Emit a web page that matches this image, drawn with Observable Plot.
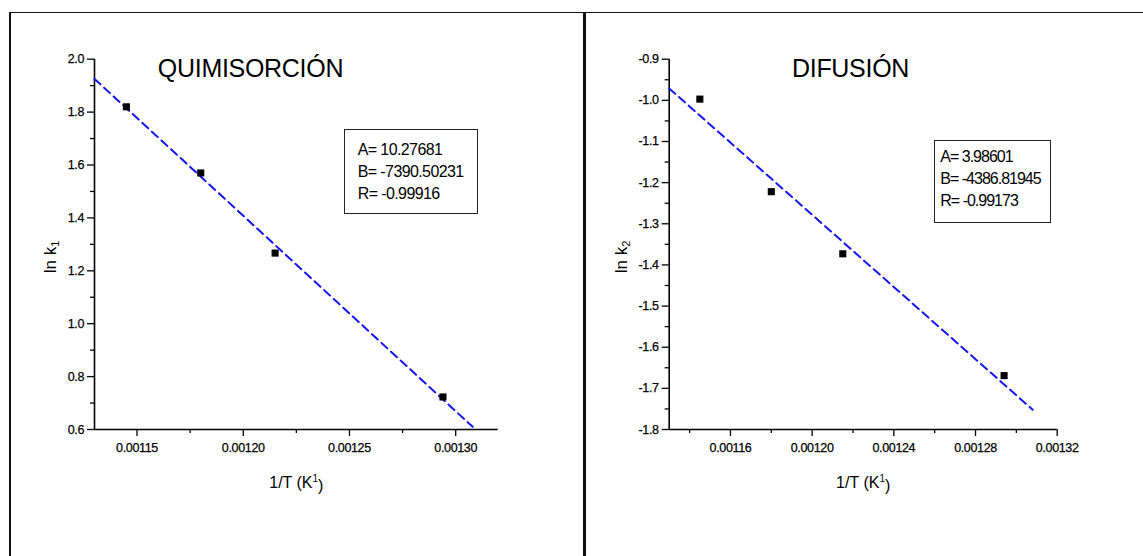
<!DOCTYPE html>
<html>
<head>
<meta charset="utf-8">
<script src="https://cdn.jsdelivr.net/npm/d3@7"></script>
<script src="https://cdn.jsdelivr.net/npm/@observablehq/plot@0.6"></script>
<style>
  html, body { margin: 0; padding: 0; background: #fff; }
  #root { position: relative; width: 1143px; height: 556px; overflow: hidden; background: #fff; font-family: "Liberation Sans", Arial, sans-serif; }
  .panel { position: absolute; top: 0; }
  .line { position: absolute; background: #111; z-index: 5; }
  .fitbox { position: absolute; border: 1.3px solid #222; box-sizing: border-box; font-size: 16px; line-height: 22px; color: #000; background: #fff; z-index: 4; white-space: nowrap; }
</style>
</head>
<body>
<div id="root"></div>
<script>
// ---- data ----
const invT = [0.001145, 0.00118, 0.001215, 0.001294];
const lnK1 = [1.82, 1.57, 1.267, 0.723];
const lnK2 = [-0.997, -1.222, -1.373, -1.669];

const fitLeft = {A: 10.27681, B: -7390.50231, R: -0.99916};
const fitRight = {A: 3.98601, B: -4386.81945, R: -0.99173};
const fitLeftText = ["A= 10.27681", "B= -7390.50231", "R= -0.99916"];
const fitRightText = ["A= 3.98601", "B= -4386.81945", "R= -0.99173"];
const fitRangeX = [0.00113, 0.001308];

const xDomain = [0.00113, 0.00132];
const leftXMajor = [0.00115, 0.00120, 0.00125, 0.00130];
const leftXMinor = [0.001175, 0.001225, 0.001275];
const leftYMajor = [0.6, 0.8, 1.0, 1.2, 1.4, 1.6, 1.8, 2.0];
const leftYMinor = [0.7, 0.9, 1.1, 1.3, 1.5, 1.7, 1.9];
const rightXMajor = [0.00116, 0.00120, 0.00124, 0.00128, 0.00132];
const rightXMinor = [0.00114, 0.00118, 0.00122, 0.00126, 0.00130];
const rightYMajor = [-1.8, -1.7, -1.6, -1.5, -1.4, -1.3, -1.2, -1.1, -1.0, -0.9];
const rightYMinor = [-1.75, -1.65, -1.55, -1.45, -1.35, -1.25, -1.15, -1.05, -0.95];

const titles = ["QUIMISORCIÓN", "DIFUSIÓN"];
const yLabels = ["ln k", "ln k"];
const ySubs = ["1", "2"];

const FONT = "Liberation Sans, Arial, sans-serif";

function panel(o) {
  const pts = invT.map((x, i) => ({x, y: o.ys[i]}));
  const fit = fitRangeX.map(x => ({x, y: o.fit.A + o.fit.B * x}));
  const svg = Plot.plot({
    width: o.width,
    height: 556,
    marginLeft: o.marginLeft,
    marginRight: o.marginRight,
    marginTop: 58.7,
    marginBottom: 127,
    x: {domain: xDomain},
    y: {domain: o.yDomain},
    style: {fontFamily: FONT, fontSize: "12.5px", color: "#000", background: "transparent", overflow: "visible"},
    marks: [
      Plot.axisY(o.yMajor, {tickSize: 7, tickFormat: () => "", label: null, strokeWidth: 1.3}),
      Plot.axisY(o.yMinor, {tickSize: 4, tickFormat: () => "", label: null, strokeWidth: 1.3}),
      Plot.axisX(o.xMajor, {tickSize: 7, tickFormat: () => "", label: null, strokeWidth: 1.3}),
      Plot.axisX(o.xMinor, {tickSize: 4, tickFormat: () => "", label: null, strokeWidth: 1.3}),
      Plot.text(o.yMajor, {y: d => d, text: d => d.toFixed(1), frameAnchor: "left", dx: -10.5, textAnchor: "end",
        lineAnchor: "middle", fontSize: 12.5, fill: "#000", stroke: "#000", strokeWidth: 0.25}),
      Plot.text(o.xMajor, {x: d => d, text: d => d.toFixed(5), frameAnchor: "bottom", dy: 14, textAnchor: "middle",
        lineAnchor: "top", fontSize: 12.5, fill: "#000", stroke: "#000", strokeWidth: 0.25}),
      Plot.ruleX([xDomain[0]], {y1: o.yDomain[0], y2: o.yDomain[1], stroke: "#000", strokeWidth: 1.6}),
      Plot.ruleY([o.yDomain[0]], {x1: xDomain[0], x2: xDomain[1], stroke: "#000", strokeWidth: 1.6}),
      Plot.line(fit, {x: "x", y: "y", stroke: "#1414f0", strokeWidth: 2, strokeDasharray: "8,5"}),
      Plot.dot(pts, {x: "x", y: "y", symbol: "square", r: 4, fill: "#000", stroke: null}),
      Plot.text([o.title], {text: d => d, frameAnchor: "top-left", dx: o.titleDx, dy: 17.3, textAnchor: "middle", lineAnchor: "bottom", fontSize: 25, fill: "#000"}),
      Plot.text([o.yLabel + o.ySub], {text: d => d, frameAnchor: "left", dx: o.yLabelDx, dy: 12.6, rotate: -90, textAnchor: "middle", lineAnchor: "bottom", fontSize: 17, fill: "#000"}),
      Plot.text(["1/T (K1)"], {text: d => d, frameAnchor: "bottom", dy: 58, textAnchor: "middle", lineAnchor: "bottom", fontSize: 16, fill: "#000"})
    ]
  });
  const numRe = /^[-\u2212]?\d+\.\d+$/;
  d3.select(svg).selectAll("text").each(function() {
    const t = d3.select(this);
    const s = t.text();
    if (numRe.test(s)) {
      t.attr("letter-spacing", "-0.35px");
    } else if (s === o.yLabel + o.ySub) {
      t.text("");
      t.append("tspan").text(o.yLabel);
      t.append("tspan").attr("font-size", 11).attr("dy", "0.35em").text(o.ySub);
    } else if (s === "1/T (K1)") {
      t.text("");
      t.append("tspan").text("1/T (K");
      t.append("tspan").attr("font-size", 10).attr("dy", "-0.6em").text("1");
      t.append("tspan").attr("dy", "0.6em").text(")");
    } else if (s === o.title) {
      t.attr("letter-spacing", "-0.3px");
    }
  });
  return svg;
}

const root = document.getElementById("root");

function place(svg, left, width) {
  const wrap = document.createElement("div");
  wrap.className = "panel";
  wrap.style.left = left + "px";
  wrap.style.width = width + "px";
  wrap.appendChild(svg);
  root.appendChild(wrap);
}

place(panel({
  width: 580, marginLeft: 94, marginRight: 82.3,
  ys: lnK1, fit: fitLeft, yDomain: [0.6, 2.0],
  xMajor: leftXMajor, xMinor: leftXMinor, yMajor: leftYMajor, yMinor: leftYMinor,
  title: titles[0], titleDx: 156, yLabel: yLabels[0], ySub: ySubs[0], yLabelDx: -39
}), 0, 580);

place(panel({
  width: 557, marginLeft: 82.7, marginRight: 86.3,
  ys: lnK2, fit: fitRight, yDomain: [-1.8, -0.9],
  xMajor: rightXMajor, xMinor: rightXMinor, yMajor: rightYMajor, yMinor: rightYMinor,
  title: titles[1], titleDx: 181.3, yLabel: yLabels[1], ySub: ySubs[1], yLabelDx: -42.7
}), 586, 557);

// fit boxes
function fitBox(lines, left, top, width, height, padLeft, padTop, spacing) {
  const div = document.createElement("div");
  div.className = "fitbox";
  Object.assign(div.style, {left: left + "px", top: top + "px", width: width + "px", height: height + "px",
    paddingLeft: padLeft + "px", paddingTop: padTop + "px", letterSpacing: spacing + "px"});
  lines.forEach(s => { const l = document.createElement("div"); l.textContent = s; div.appendChild(l); });
  root.appendChild(div);
}
fitBox(fitLeftText, 343.7, 129, 134.3, 85.3, 13, 8.5, -0.6);
fitBox(fitRightText, 934.3, 139.7, 116.7, 83, 5, 5.5, -1.0);

// figure frame
function line(l, t, w, h) {
  const d = document.createElement("div");
  d.className = "line";
  Object.assign(d.style, {left: l + "px", top: t + "px", width: w + "px", height: h + "px"});
  root.appendChild(d);
}
line(9, 12, 1134, 1.4);
line(9, 12, 1.6, 544);
line(582.5, 12, 3, 544);
</script>
</body>
</html>
